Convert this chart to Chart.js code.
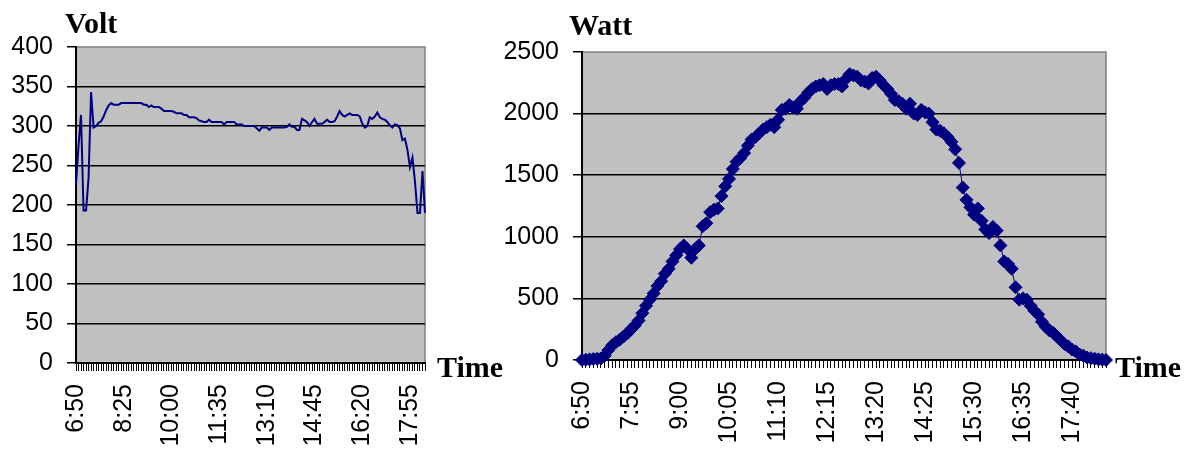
<!DOCTYPE html>
<html><head><meta charset="utf-8">
<script src="https://cdn.jsdelivr.net/npm/chart.js@4"></script>
<style>
html,body{margin:0;padding:0;background:#fff;}
#wrap{position:relative;width:1195px;height:450px;overflow:hidden;}
#c1{position:absolute;left:0;top:0;}
#c2{position:absolute;left:490px;top:0;}
</style></head><body>
<div id="wrap"><canvas id="c1" width="520" height="450"></canvas><canvas id="c2" width="705" height="450"></canvas></div>
<script>
const timeCategories = [
"6:50","6:55",
"7:00","7:05","7:10","7:15","7:20","7:25","7:30","7:35","7:40","7:45","7:50","7:55",
"8:00","8:05","8:10","8:15","8:20","8:25","8:30","8:35","8:40","8:45","8:50","8:55",
"9:00","9:05","9:10","9:15","9:20","9:25","9:30","9:35","9:40","9:45","9:50","9:55",
"10:00","10:05","10:10","10:15","10:20","10:25","10:30","10:35","10:40","10:45","10:50","10:55",
"11:00","11:05","11:10","11:15","11:20","11:25","11:30","11:35","11:40","11:45","11:50","11:55",
"12:00","12:05","12:10","12:15","12:20","12:25","12:30","12:35","12:40","12:45","12:50","12:55",
"13:00","13:05","13:10","13:15","13:20","13:25","13:30","13:35","13:40","13:45","13:50","13:55",
"14:00","14:05","14:10","14:15","14:20","14:25","14:30","14:35","14:40","14:45","14:50","14:55",
"15:00","15:05","15:10","15:15","15:20","15:25","15:30","15:35","15:40","15:45","15:50","15:55",
"16:00","16:05","16:10","16:15","16:20","16:25","16:30","16:35","16:40","16:45","16:50","16:55",
"17:00","17:05","17:10","17:15","17:20","17:25","17:30","17:35","17:40","17:45","17:50","17:55",
"18:00","18:05","18:10","18:15","18:20","18:25"
];

const voltValues = [
226,275,314,193,193,234,343,298,300,304,
306,312,320,326,329,327,327,327,329,329,
329,329,329,329,329,329,329,327,327,324,
326,324,324,324,322,319,319,319,319,318,
316,316,316,314,314,311,311,311,310,307,
306,305,305,308,305,305,305,305,305,302,
305,305,305,305,302,302,302,300,300,300,
300,300,297,294,298,298,298,295,298,298,
298,298,298,298,299,302,299,299,295,295,
309,307,305,300,305,309,303,303,303,305,
308,305,305,306,312,319,314,312,314,316,
314,314,314,312,303,298,300,311,309,312,
317,311,309,308,305,301,298,302,301,297,
282,284,270,248,260,230,190,190,243,190
];

const wattValues = [
0,2,5,8,10,12,35,80,120,145,
165,190,215,250,280,320,380,440,490,540,
600,640,700,740,800,850,900,930,900,830,
900,930,1085,1110,1200,1220,1230,1330,1410,1470,
1550,1610,1640,1680,1740,1790,1810,1840,1870,1890,
1910,1890,1950,2030,2040,2070,2050,2040,2100,2130,
2170,2200,2220,2230,2240,2200,2230,2240,2240,2220,
2280,2320,2310,2300,2270,2260,2245,2290,2300,2270,
2230,2200,2160,2110,2100,2080,2040,2080,2000,1990,
2030,2010,2000,1930,1870,1860,1840,1810,1770,1710,
1600,1400,1300,1240,1180,1230,1130,1060,1030,1080,
1050,930,800,780,740,590,490,500,490,440,
400,370,310,270,240,220,190,160,130,110,
85,70,45,35,20,15,10,5,3,0
];

const voltAxisLabels = ["6:50","8:25","10:00","11:35","13:10","14:45","16:20","17:55"];
const wattAxisLabels = ["6:50","7:55","9:00","10:05","11:10","12:15","13:20","14:25","15:30","16:35","17:40"];
const voltTicks = {min:0, max:400, step:50};
const wattTicks = {min:0, max:2500, step:500};

Chart.defaults.font.family = '"Liberation Sans", Arial, sans-serif';
Chart.defaults.color = '#000';

const framePlugin = {
  id: 'frame',
  beforeDraw(chart, args, opts) {
    const {ctx, chartArea: a} = chart;
    ctx.save();
    ctx.fillStyle = '#C0C0C0';
    ctx.fillRect(a.left, a.top, a.right - a.left, a.bottom - a.top);
    ctx.strokeStyle = '#808080';
    ctx.lineWidth = 1.5;
    ctx.beginPath();
    ctx.moveTo(a.left, a.top);
    ctx.lineTo(a.right, a.top);
    ctx.lineTo(a.right, a.bottom);
    ctx.stroke();
    ctx.restore();
  },
  afterDraw(chart, args, opts) {
    const ctx = chart.ctx;
    ctx.save();
    ctx.fillStyle = '#000';
    ctx.font = 'bold 30px "Liberation Serif", "Times New Roman", serif';
    ctx.textAlign = 'left';
    ctx.textBaseline = 'alphabetic';
    ctx.fillText(opts.yTitle, opts.yx, opts.yy);
    ctx.fillText(opts.xTitle, opts.xx, opts.xy);
    ctx.restore();
  }
};

function makeChart(id, labels, values, axisLabels, yt, geom, dsExtra, titles) {
  return new Chart(document.getElementById(id), {
    type: 'line',
    data: {
      labels: labels,
      datasets: [Object.assign({
        data: values,
        borderColor: '#000080',
        backgroundColor: '#000080',
        fill: false,
        tension: 0,
        clip: false
      }, dsExtra)]
    },
    plugins: [framePlugin],
    options: {
      responsive: false,
      animation: false,
      devicePixelRatio: 1,
      layout: {padding: {left: 0, top: geom.top, right: geom.right, bottom: 0}},
      plugins: {
        legend: {display: false},
        tooltip: {enabled: false},
        frame: titles
      },
      scales: {
        x: {
          type: 'category',
          offset: false,
          grid: {drawOnChartArea: false, drawTicks: true, tickLength: 8, tickColor: '#000', color: '#000', lineWidth: 1},
          border: {color: '#000', width: 2},
          ticks: {
            autoSkip: false, maxRotation: 90, minRotation: 90, padding: 13,
            font: {size: 25}, color: '#000',
            callback(v) { const l = this.getLabelForValue(v); return axisLabels.includes(l) ? l : ''; }
          },
          afterFit(s) { s.height = geom.xh; }
        },
        y: {
          min: yt.min, max: yt.max,
          ticks: {stepSize: yt.step, padding: 14, font: {size: 25}, color: '#000',
            callback(v) { return String(v); }},
          grid: {
            color: (c) => (c.tick && c.tick.value === yt.max) ? 'rgba(0,0,0,0)' : '#000',
            tickColor: '#000', tickLength: 9, lineWidth: 1.5
          },
          border: {color: '#000', width: 2},
          afterFit(s) { s.width = geom.yw; }
        }
      }
    }
  });
}

makeChart('c1', timeCategories, voltValues, voltAxisLabels, voltTicks,
  {top: 47, right: 95, xh: 87, yw: 76},
  {borderWidth: 2, pointRadius: 0},
  {yTitle: 'Volt', yx: 65, yy: 33, xTitle: 'Time', xx: 437, xy: 377});

makeChart('c2', timeCategories, wattValues, wattAxisLabels, wattTicks,
  {top: 52, right: 89, xh: 90, yw: 92},
  {borderWidth: 1, pointRadius: 6.5, pointStyle: 'rectRot', pointBackgroundColor: '#000080', pointBorderColor: '#000080', pointBorderWidth: 1},
  {yTitle: 'Watt', yx: 79, yy: 35, xTitle: 'Time', xx: 625, xy: 377});
</script>
</body></html>
